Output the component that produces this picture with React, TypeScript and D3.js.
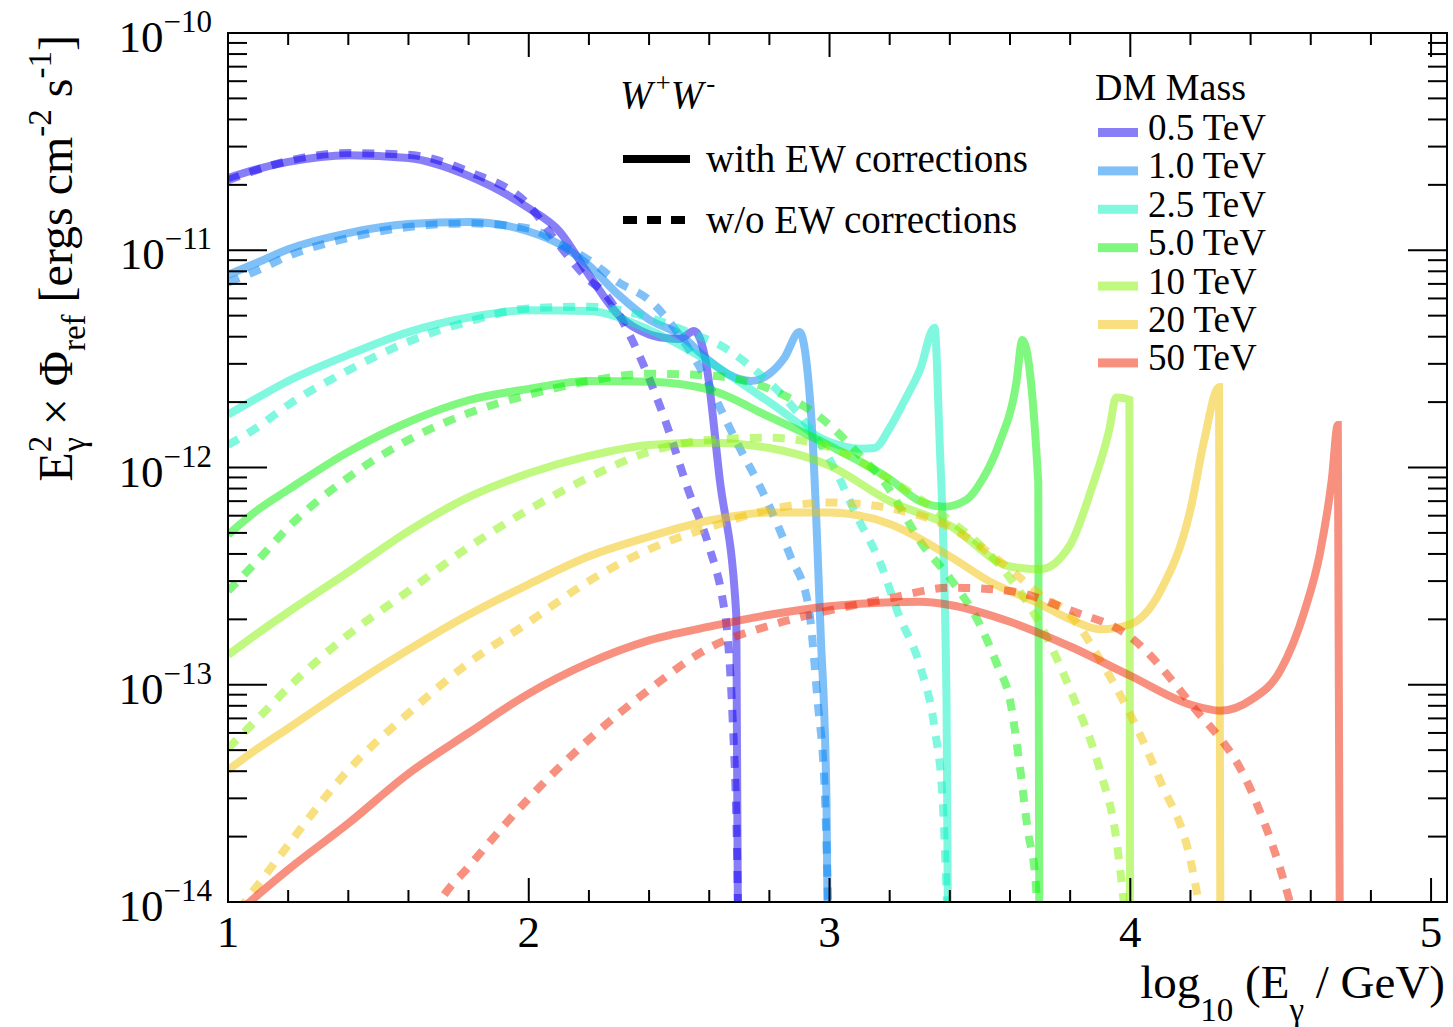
import React from 'react';
import * as d3 from 'd3';

// ---------- axis ranges / ticks ----------
const X_DOMAIN = [1, 5.053];
const Y_DOMAIN = [1e-14, 1e-10];
const X_MAJOR_TICKS = [1, 2, 3, 4, 5];
const Y_DECADES = [-14, -13, -12, -11, -10];
const X_TICK_LABELS = ['1', '2', '3', '4', '5'];

// ---------- legend ----------
const MASS_LABELS = ['0.5 TeV', '1.0 TeV', '2.5 TeV', '5.0 TeV', '10 TeV', '20 TeV', '50 TeV'];
const MASS_COLORS = ['rgb(17,0,239)', 'rgb(1,129,241)', 'rgb(1,241,193)', 'rgb(1,241,1)', 'rgb(129,241,1)', 'rgb(241,193,1)', 'rgb(241,33,1)'];

// ---------- data: log10(E/GeV) and E^2 x Phi ----------
// 0.5 TeV
const X_05_EW = [1.0, 1.1, 1.2, 1.4, 1.6, 1.8, 2.0, 2.1, 2.2, 2.3, 2.4, 2.45, 2.5, 2.55, 2.59, 2.635, 2.69, 2.699];
const Y_05_EW = [2.15e-11, 2.37e-11, 2.55e-11, 2.74e-11, 2.66e-11, 2.2e-11, 1.56e-11, 1.23e-11, 7.7e-12, 5.0e-12, 4.1e-12, 3.95e-12, 3.9e-12, 4.25e-12, 3.0e-12, 8.8e-13, 2.1e-13, 1e-15];
const X_05_NOEW = [1.0, 1.1, 1.2, 1.4, 1.6, 1.8, 2.0, 2.1, 2.2, 2.25, 2.35, 2.45, 2.53, 2.6, 2.645, 2.658, 2.678, 2.691, 2.699];
const Y_05_NOEW = [2.1e-11, 2.35e-11, 2.58e-11, 2.8e-11, 2.75e-11, 2.3e-11, 1.61e-11, 1.06e-11, 7.3e-12, 6.4e-12, 3.7e-12, 1.7e-12, 7.9e-13, 4.3e-13, 2.45e-13, 1.85e-13, 6.9e-14, 2.15e-14, 5e-15];
// 1.0 TeV
const X_10_EW = [1.0, 1.1, 1.2, 1.4, 1.6, 1.8, 2.0, 2.1, 2.2, 2.3, 2.4, 2.5, 2.6, 2.66, 2.74, 2.8, 2.85, 2.9, 2.94, 2.97, 2.99, 3.0];
const Y_10_EW = [7.7e-12, 8.8e-12, 1.01e-11, 1.2e-11, 1.32e-11, 1.35e-11, 1.22e-11, 1.07e-11, 8.5e-12, 6.2e-12, 4.8e-12, 4.1e-12, 3.1e-12, 2.7e-12, 2.5e-12, 2.7e-12, 3.2e-12, 4.2e-12, 1.66e-12, 1.8e-13, 2.9e-14, 1e-15];
const X_10_NOEW = [1.0, 1.1, 1.2, 1.4, 1.6, 1.8, 2.0, 2.1, 2.2, 2.3, 2.4, 2.55, 2.7, 2.78, 2.87, 2.93, 2.96, 2.985, 3.0];
const Y_10_NOEW = [7.1e-12, 8.1e-12, 9.4e-12, 1.14e-11, 1.28e-11, 1.33e-11, 1.26e-11, 1.08e-11, 9.0e-12, 7.1e-12, 5.9e-12, 3.2e-12, 1.24e-12, 7.6e-13, 3.9e-13, 2.3e-13, 8.5e-14, 3.0e-14, 5e-15];
// 2.5 TeV
const X_25_EW = [1.0, 1.1, 1.2, 1.4, 1.6, 1.8, 2.0, 2.2, 2.4, 2.6, 2.8, 3.0, 3.1, 3.15, 3.2, 3.25, 3.3, 3.349, 3.365, 3.389, 3.398];
const Y_25_EW = [1.75e-12, 2.1e-12, 2.5e-12, 3.3e-12, 4.2e-12, 4.9e-12, 5.3e-12, 5.25e-12, 4.3e-12, 3.06e-12, 2.0e-12, 1.31e-12, 1.22e-12, 1.23e-12, 1.52e-12, 2.04e-12, 2.8e-12, 4.4e-12, 1.44e-12, 8.5e-14, 1e-15];
const X_25_NOEW = [1.0, 1.1, 1.2, 1.4, 1.6, 1.8, 2.0, 2.2, 2.4, 2.53, 2.66, 2.74, 2.85, 2.93, 3.01, 3.09, 3.17, 3.23, 3.3, 3.35, 3.376, 3.398];
const Y_25_NOEW = [1.27e-12, 1.54e-12, 1.94e-12, 2.8e-12, 3.8e-12, 4.7e-12, 5.4e-12, 5.5e-12, 4.9e-12, 4.2e-12, 3.5e-12, 2.9e-12, 2.1e-12, 1.54e-12, 1.03e-12, 6.0e-13, 3.6e-13, 2.1e-13, 1.23e-13, 6.2e-14, 2.95e-14, 5e-15];
// 5.0 TeV
const X_50_EW = [1.0, 1.1, 1.2, 1.4, 1.6, 1.8, 2.0, 2.2, 2.4, 2.6, 2.8, 3.0, 3.2, 3.3, 3.38, 3.455, 3.508, 3.565, 3.621, 3.641, 3.694, 3.699];
const Y_50_EW = [4.9e-13, 6.4e-13, 7.9e-13, 1.18e-12, 1.62e-12, 2.04e-12, 2.3e-12, 2.5e-12, 2.48e-12, 2.28e-12, 1.71e-12, 1.26e-12, 8.85e-13, 7.0e-13, 6.6e-13, 7.1e-13, 8.8e-13, 1.3e-12, 2.45e-12, 3.86e-12, 8.5e-13, 1e-15];
const X_50_NOEW = [1.0, 1.1, 1.2, 1.4, 1.6, 1.8, 2.0, 2.2, 2.4, 2.6, 2.8, 3.0, 3.1, 3.2, 3.25, 3.3, 3.4, 3.5, 3.56, 3.6, 3.63, 3.66, 3.685, 3.699];
const Y_50_NOEW = [2.7e-13, 3.75e-13, 5.3e-13, 9.0e-13, 1.34e-12, 1.78e-12, 2.16e-12, 2.5e-12, 2.7e-12, 2.65e-12, 2.3e-12, 1.57e-12, 1.14e-12, 7.9e-13, 6.0e-13, 4.6e-13, 3.1e-13, 1.89e-13, 1.21e-13, 8.5e-14, 4.5e-14, 2.1e-14, 1.26e-14, 5e-15];
// 10 TeV
const X_100_EW = [1.0, 1.1, 1.2, 1.4, 1.6, 1.8, 2.0, 2.2, 2.4, 2.6, 2.8, 3.0, 3.2, 3.4, 3.6, 3.7, 3.8, 3.87, 3.93, 3.953, 3.997, 4.0];
const Y_100_EW = [1.37e-13, 1.73e-13, 2.16e-13, 3.3e-13, 5.1e-13, 7.3e-13, 9.4e-13, 1.13e-12, 1.27e-12, 1.3e-12, 1.23e-12, 1.02e-12, 7.0e-13, 5.4e-13, 3.5e-13, 3.4e-13, 4.4e-13, 7.9e-13, 1.49e-12, 2.1e-12, 2.05e-12, 1e-15];
const X_100_NOEW = [1.0, 1.1, 1.2, 1.4, 1.6, 1.8, 2.0, 2.2, 2.4, 2.6, 2.8, 3.0, 3.2, 3.4, 3.5, 3.6, 3.7, 3.8, 3.9, 3.95, 4.0];
const Y_100_NOEW = [5.1e-14, 7.0e-14, 9.7e-14, 1.7e-13, 2.7e-13, 4.3e-13, 6.4e-13, 9.0e-13, 1.18e-12, 1.34e-12, 1.37e-12, 1.24e-12, 8.8e-13, 5.7e-13, 4.4e-13, 3.1e-13, 1.9e-13, 9.5e-14, 4.0e-14, 2.1e-14, 5e-15];
// 20 TeV
const X_200_EW = [1.0, 1.1, 1.2, 1.4, 1.6, 1.8, 2.0, 2.2, 2.4, 2.6, 2.8, 3.0, 3.2, 3.4, 3.55, 3.6, 3.7, 3.8, 3.9, 4.0, 4.1, 4.2, 4.246, 4.295, 4.301];
const Y_200_EW = [4.05e-14, 5.1e-14, 6.3e-14, 9.7e-14, 1.45e-13, 2.1e-13, 2.9e-13, 3.9e-13, 4.8e-13, 5.7e-13, 6.2e-13, 6.2e-13, 5.5e-13, 3.9e-13, 2.9e-13, 2.7e-13, 2.35e-13, 2.0e-13, 1.8e-13, 1.9e-13, 2.7e-13, 6.4e-13, 1.34e-12, 2.35e-12, 1e-15];
const X_200_NOEW = [1.0, 1.056, 1.1, 1.2, 1.4, 1.6, 1.8, 2.0, 2.2, 2.4, 2.6, 2.8, 3.0, 3.2, 3.4, 3.6, 3.7, 3.8, 3.9, 4.0, 4.1, 4.2, 4.24];
const Y_200_NOEW = [7.4e-15, 1e-14, 1.2e-14, 1.83e-14, 4.05e-14, 7.4e-14, 1.26e-13, 1.94e-13, 3.0e-13, 4.2e-13, 5.3e-13, 6.4e-13, 6.9e-13, 6.5e-13, 5.3e-13, 3.4e-13, 2.6e-13, 2.1e-13, 1.3e-13, 7.3e-14, 3.6e-14, 1.56e-14, 8e-15];
// 50 TeV
const X_500_EW = [1.0, 1.1, 1.2, 1.4, 1.6, 1.8, 2.0, 2.2, 2.4, 2.6, 2.8, 3.0, 3.2, 3.3, 3.4, 3.6, 3.8, 4.0, 4.2, 4.3, 4.4, 4.5, 4.58, 4.63, 4.67, 4.69, 4.699];
const Y_500_EW = [8.1e-15, 1.08e-14, 1.41e-14, 2.3e-14, 3.9e-14, 6.0e-14, 9.1e-14, 1.26e-13, 1.6e-13, 1.85e-13, 2.1e-13, 2.3e-13, 2.4e-13, 2.41e-13, 2.33e-13, 1.95e-13, 1.5e-13, 1.1e-13, 8.1e-14, 7.6e-14, 8.5e-14, 1.17e-13, 2.2e-13, 4.0e-13, 8.8e-13, 1.57e-12, 1e-15];
const X_500_NOEW = [1.65, 1.704, 1.8, 2.0, 2.2, 2.4, 2.6, 2.8, 3.0, 3.2, 3.4, 3.6, 3.8, 4.0, 4.2, 4.4, 4.5, 4.55];
const Y_500_NOEW = [7e-15, 1e-14, 1.45e-14, 3.0e-14, 5.6e-14, 9.5e-14, 1.48e-13, 1.87e-13, 2.2e-13, 2.5e-13, 2.8e-13, 2.7e-13, 2.2e-13, 1.66e-13, 8.2e-14, 3.3e-14, 1.4e-14, 8e-15];

const SERIES = [
  { xs: X_05_EW, ys: Y_05_EW, c: 0, dashed: false },
  { xs: X_05_NOEW, ys: Y_05_NOEW, c: 0, dashed: true },
  { xs: X_10_EW, ys: Y_10_EW, c: 1, dashed: false },
  { xs: X_10_NOEW, ys: Y_10_NOEW, c: 1, dashed: true },
  { xs: X_25_EW, ys: Y_25_EW, c: 2, dashed: false },
  { xs: X_25_NOEW, ys: Y_25_NOEW, c: 2, dashed: true },
  { xs: X_50_EW, ys: Y_50_EW, c: 3, dashed: false },
  { xs: X_50_NOEW, ys: Y_50_NOEW, c: 3, dashed: true },
  { xs: X_100_EW, ys: Y_100_EW, c: 4, dashed: false },
  { xs: X_100_NOEW, ys: Y_100_NOEW, c: 4, dashed: true },
  { xs: X_200_EW, ys: Y_200_EW, c: 5, dashed: false },
  { xs: X_200_NOEW, ys: Y_200_NOEW, c: 5, dashed: true },
  { xs: X_500_EW, ys: Y_500_EW, c: 6, dashed: false },
  { xs: X_500_NOEW, ys: Y_500_NOEW, c: 6, dashed: true },
];

const W = 1453, H = 1027;
const L = 228, R = 1447, T = 33, B = 902;
const FONT = '"Liberation Serif", "Times New Roman", serif';

export default function App() {
  const x = d3.scaleLinear().domain(X_DOMAIN).range([L, R]);
  const y = d3.scaleLog().domain(Y_DOMAIN).range([B, T]);
  const line = d3.line<[number, number]>().x(d => x(d[0])).y(d => y(d[1])).curve(d3.curveMonotoneX);

  const xMinor: number[] = [];
  for (let v = 1; v <= 5.0001; v += 0.2) xMinor.push(+v.toFixed(2));
  const yMinor: number[] = [];
  for (const d of Y_DECADES.slice(0, -1)) for (let m = 2; m <= 9; m++) yMinor.push(m * Math.pow(10, d));

  const LEG_Y0 = 140, LEG_DY = 38.4;

  return (
    <svg width={W} height={H} style={{ position: 'absolute', left: 0, top: 0, background: '#fff' }} fontFamily={FONT}>
      <defs>
        <clipPath id="plotclip"><rect x={L} y={T} width={R - L} height={B - T} /></clipPath>
      </defs>
      <rect x={0} y={0} width={W} height={H} fill="#fff" />
      <g clipPath="url(#plotclip)">
        {SERIES.map((s, i) => (
          <path key={i} d={line(s.xs.map((v, k) => [v, s.ys[k]] as [number, number])) || ''}
            fill="none" stroke={MASS_COLORS[s.c]} strokeOpacity={0.5} strokeWidth={8}
            strokeDasharray={s.dashed ? '12 11' : undefined} strokeLinejoin="miter" strokeMiterlimit={4} />
        ))}
      </g>
      {/* ticks */}
      <g stroke="#000" strokeWidth={2}>
        {xMinor.map((v, i) => {
          const major = Math.abs(v - Math.round(v)) < 1e-6;
          const len = major ? 24 : 12;
          return (
            <g key={'xt' + i}>
              <line x1={x(v)} x2={x(v)} y1={B} y2={B - len} />
              <line x1={x(v)} x2={x(v)} y1={T} y2={T + len} />
            </g>
          );
        })}
        {yMinor.map((v, i) => (
          <g key={'ym' + i}>
            <line x1={L} x2={L + 19} y1={y(v)} y2={y(v)} />
            <line x1={R} x2={R - 19} y1={y(v)} y2={y(v)} />
          </g>
        ))}
        {Y_DECADES.map((d, i) => (
          <g key={'yM' + i}>
            <line x1={L} x2={L + 39} y1={y(Math.pow(10, d))} y2={y(Math.pow(10, d))} />
            <line x1={R} x2={R - 39} y1={y(Math.pow(10, d))} y2={y(Math.pow(10, d))} />
          </g>
        ))}
      </g>
      <rect x={L} y={T} width={R - L} height={B - T} fill="none" stroke="#000" strokeWidth={2} />
      {/* tick labels */}
      {X_MAJOR_TICKS.map((v, i) => (
        <text key={'xl' + i} x={x(v)} y={947} fontSize={45} textAnchor="middle">{X_TICK_LABELS[i]}</text>
      ))}
      {Y_DECADES.map((d, i) => (
        <text key={'yl' + i} x={212} y={y(Math.pow(10, d)) + 19} fontSize={45} textAnchor="end">
          10<tspan fontSize={31} dy={-20}>{'\u2212' + Math.abs(d)}</tspan>
        </text>
      ))}
      {/* axis titles */}
      <text x={1445} y={998} fontSize={47} textAnchor="end">
        log<tspan fontSize={33} dy={23}>10</tspan><tspan dy={-23}>{' (E'}</tspan><tspan fontSize={33} dy={23}>γ</tspan><tspan dy={-23}>{' / GeV)'}</tspan>
      </text>
      <text transform={`translate(72, 35) rotate(-90)`} fontSize={48} textAnchor="end">
        E<tspan fontSize={33} dy={-21}>2</tspan><tspan fontSize={33} dx={-16} dy={34}>γ</tspan><tspan dy={-13}>{' × Φ'}</tspan><tspan fontSize={33} dy={13}>ref</tspan><tspan dy={-13}>{' [ergs cm'}</tspan><tspan fontSize={33} dy={-21}>-2</tspan><tspan dy={21}>{' s'}</tspan><tspan fontSize={33} dy={-21}>-1</tspan><tspan dy={21}>]</tspan>
      </text>
      {/* legend 1 */}
      <text x={620} y={108} fontSize={39}>
        <tspan fontStyle="italic">W</tspan><tspan fontSize={27} dx={3} dy={-16}>+</tspan><tspan fontStyle="italic" dy={16}>W</tspan><tspan fontSize={27} dx={3} dy={-16}>-</tspan>
      </text>
      <line x1={623} x2={690} y1={159} y2={159} stroke="#000" strokeWidth={8} />
      <line x1={623} x2={690} y1={220} y2={220} stroke="#000" strokeWidth={8} strokeDasharray="14 10" />
      <text x={706} y={172} fontSize={39}>with EW corrections</text>
      <text x={706} y={233} fontSize={39}>w/o EW corrections</text>
      {/* legend 2 */}
      <text x={1095} y={100} fontSize={38}>DM Mass</text>
      {MASS_LABELS.map((lab, i) => (
        <g key={'lg' + i}>
          <rect x={1098} y={LEG_Y0 + i * LEG_DY - 12} width={40} height={9} fill={MASS_COLORS[i]} fillOpacity={0.5} />
          <text x={1148} y={LEG_Y0 + i * LEG_DY} fontSize={37}>{lab}</text>
        </g>
      ))}
    </svg>
  );
}
